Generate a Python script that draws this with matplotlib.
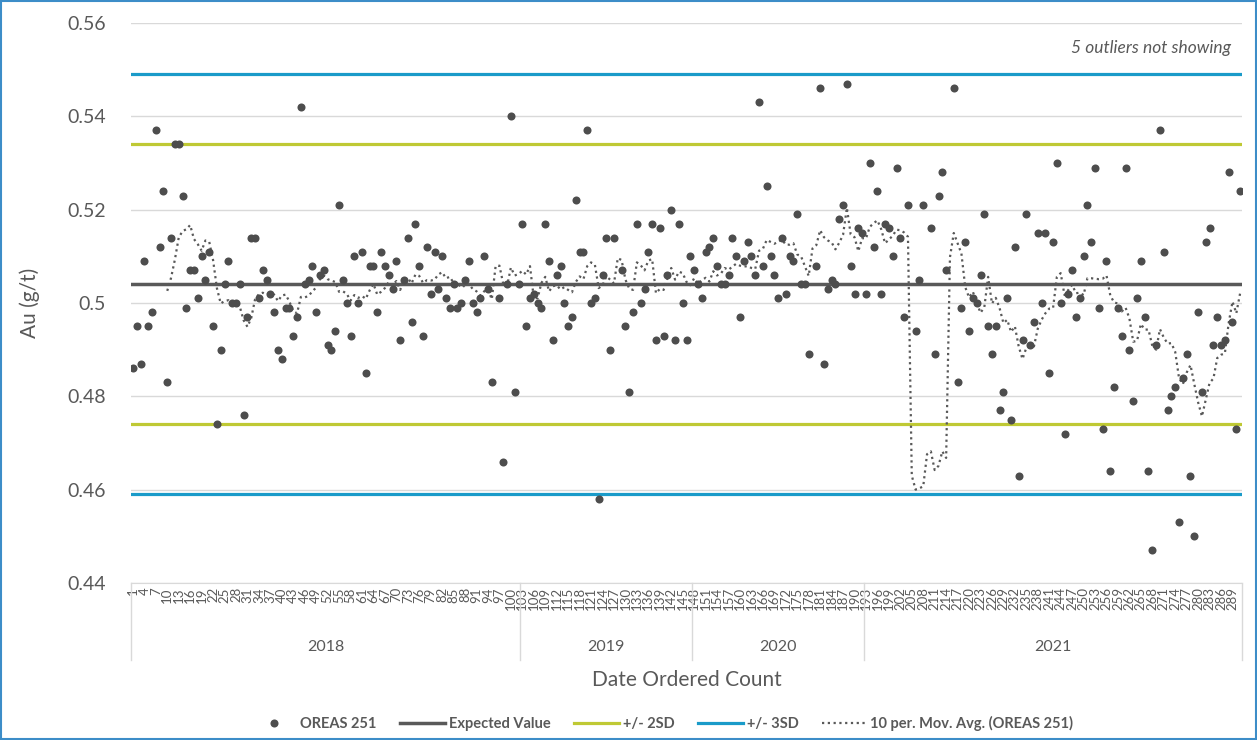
import matplotlib
matplotlib.use("Agg")
import matplotlib.pyplot as plt
import matplotlib.transforms as mtransforms
from matplotlib.lines import Line2D
from matplotlib.patches import Rectangle
import numpy as np
import pandas as pd

# OREAS 251 results, in date order.
# Points 96, 128, 179, 205, 209 and 215 are off-scale outliers (not visible).
au = [
    0.486, 0.495, 0.487, 0.509, 0.495, 0.498, 0.537, 0.512, 0.524, 0.483,
    0.514, 0.534, 0.534, 0.523, 0.499, 0.507, 0.507, 0.501, 0.510, 0.505,
    0.511, 0.495, 0.474, 0.490, 0.504, 0.509, 0.500, 0.500, 0.504, 0.476,
    0.497, 0.514, 0.514, 0.501, 0.507, 0.505, 0.502, 0.498, 0.490, 0.488,
    0.499, 0.499, 0.493, 0.497, 0.542, 0.504, 0.505, 0.508, 0.498, 0.506,
    0.507, 0.491, 0.490, 0.494, 0.521, 0.505, 0.500, 0.493, 0.510, 0.500,
    0.511, 0.485, 0.508, 0.508, 0.498, 0.511, 0.508, 0.506, 0.503, 0.509,
    0.492, 0.505, 0.514, 0.496, 0.517, 0.508, 0.493, 0.512, 0.502, 0.511,
    0.503, 0.510, 0.501, 0.499, 0.504, 0.499, 0.500, 0.505, 0.509, 0.500,
    0.498, 0.501, 0.510, 0.503, 0.483, 0.570, 0.501, 0.466, 0.504, 0.540,
    0.481, 0.504, 0.517, 0.495, 0.501, 0.502, 0.500, 0.499, 0.517, 0.509,
    0.492, 0.506, 0.508, 0.500, 0.495, 0.497, 0.522, 0.511, 0.511, 0.537,
    0.500, 0.501, 0.458, 0.506, 0.514, 0.490, 0.514, 0.565, 0.507, 0.495,
    0.481, 0.498, 0.517, 0.500, 0.503, 0.511, 0.517, 0.492, 0.516, 0.493,
    0.506, 0.520, 0.492, 0.517, 0.500, 0.492, 0.510, 0.507, 0.504, 0.501,
    0.511, 0.512, 0.514, 0.508, 0.504, 0.504, 0.506, 0.514, 0.510, 0.497,
    0.509, 0.513, 0.510, 0.506, 0.543, 0.508, 0.525, 0.510, 0.506, 0.501,
    0.514, 0.502, 0.510, 0.509, 0.519, 0.504, 0.504, 0.489, 0.565, 0.508,
    0.546, 0.487, 0.503, 0.505, 0.504, 0.518, 0.521, 0.547, 0.508, 0.502,
    0.516, 0.515, 0.502, 0.530, 0.512, 0.524, 0.502, 0.517, 0.516, 0.510,
    0.529, 0.514, 0.497, 0.521, 0.000, 0.494, 0.505, 0.521, 0.585, 0.516,
    0.489, 0.523, 0.528, 0.507, 0.430, 0.546, 0.483, 0.499, 0.513, 0.494,
    0.501, 0.500, 0.506, 0.519, 0.495, 0.489, 0.495, 0.477, 0.481, 0.501,
    0.475, 0.512, 0.463, 0.492, 0.519, 0.491, 0.496, 0.515, 0.500, 0.515,
    0.485, 0.513, 0.530, 0.500, 0.472, 0.502, 0.507, 0.497, 0.501, 0.510,
    0.521, 0.513, 0.529, 0.499, 0.473, 0.509, 0.464, 0.482, 0.499, 0.493,
    0.529, 0.490, 0.479, 0.501, 0.509, 0.497, 0.464, 0.447, 0.491, 0.537,
    0.511, 0.477, 0.480, 0.482, 0.453, 0.484, 0.489, 0.463, 0.450, 0.498,
    0.481, 0.513, 0.516, 0.491, 0.497, 0.491, 0.492, 0.528, 0.496, 0.473,
    0.524,
]

years = ["2018", "2019", "2020", "2021"]
year_counts = [102, 45, 45, 99]

expected = 0.504
sd2 = [0.474, 0.534]
sd3 = [0.459, 0.549]

yticks = [0.44, 0.46, 0.48, 0.50, 0.52, 0.54, 0.56]
ytick_labels = ["0.44", "0.46", "0.48", "0.5", "0.52", "0.54", "0.56"]

grey = "#595959"
lime = "#BFC934"
blue = "#1A9BC9"

plt.rcParams["font.family"] = ["Lato", "DejaVu Sans"]

n = len(au)
count = np.arange(1, n + 1)
mov_avg = pd.Series(au).rolling(10).mean()

fig = plt.figure(figsize=(12.57, 7.40), dpi=100)
ax = fig.add_axes([0.1042, 0.2122, 0.8839, 0.7567])

# reference lines
ax.axhline(sd3[0], color=blue, lw=2.3, zorder=2)
ax.axhline(sd3[1], color=blue, lw=2.3, zorder=2)
ax.axhline(sd2[0], color=lime, lw=2.3, zorder=2)
ax.axhline(sd2[1], color=lime, lw=2.3, zorder=2)
ax.axhline(expected, color=grey, lw=2.5, zorder=2)

ax.plot(count, au, "o", color="#4D4D4D", ms=5.8, mec="none", zorder=4)
ax.plot(count, mov_avg, color=grey, lw=1.6, ls=(0, (1, 1.6)), zorder=3)

ax.set_xlim(0.5, n + 0.5)
ax.set_ylim(0.44, 0.56)
ax.set_yticks(yticks)
ax.set_yticklabels(ytick_labels)
ax.grid(axis="y", color="#D9D9D9", lw=1)
ax.set_axisbelow(True)
for s in ["top", "right", "left"]:
    ax.spines[s].set_visible(False)
ax.spines["bottom"].set_color("#D9D9D9")
ax.tick_params(axis="y", length=0, pad=18, labelsize=14, labelcolor=grey)

# category axis: counts every third point, then years
ax.set_xticks(count[::3])
ax.set_xticklabels([str(c) for c in count[::3]], rotation=90, va="top")
ax.tick_params(axis="x", length=0, pad=3, labelsize=9.5, labelcolor=grey)

trans = mtransforms.blended_transform_factory(ax.transData, ax.transAxes)
edges = np.concatenate([[0], np.cumsum(year_counts)]) + 0.5
for e in edges:
    ax.plot([e, e], [0, -0.137], transform=trans, color="#D9D9D9", lw=1, clip_on=False)
for i, yr in enumerate(years):
    mid = (edges[i] + edges[i + 1]) / 2
    ax.text(mid, -0.114, yr, transform=trans, ha="center", va="center",
            fontsize=11.5, color=grey)

ax.text(0.5, -0.173, "Date Ordered Count", transform=ax.transAxes,
        ha="center", va="center", fontsize=15, color=grey)
ax.set_ylabel("Au (g/t)", fontsize=15, color=grey, labelpad=20)

fig.text(0.979, 0.935, "5 outliers not showing", ha="right", va="center",
         fontsize=12.5, style="italic", color=grey)

handles = [
    Line2D([], [], ls="none", marker="o", color="#4D4D4D", ms=5.8, mec="none"),
    Line2D([], [], color=grey, lw=2.5),
    Line2D([], [], color=lime, lw=2.3),
    Line2D([], [], color=blue, lw=2.3),
    Line2D([], [], color=grey, lw=1.6, ls=(0, (1, 1.6))),
]
names = ["OREAS 251", "Expected Value", "+/- 2SD", "+/- 3SD",
         "10 per. Mov. Avg. (OREAS 251)"]
leg = fig.legend(handles, names, loc="center", bbox_to_anchor=(0.527, 0.022),
                 ncol=5, frameon=False, handlelength=3.1, columnspacing=1.6,
                 handletextpad=0.25, prop={"size": 10.5, "weight": "bold"})
for t in leg.get_texts():
    t.set_color(grey)

# chart border
fig.patches.append(Rectangle((0.001, 0.001), 0.998, 0.998, transform=fig.transFigure,
                             fill=False, edgecolor="#3C8DC8", lw=1.5))

fig.savefig("out.png", dpi=100)
